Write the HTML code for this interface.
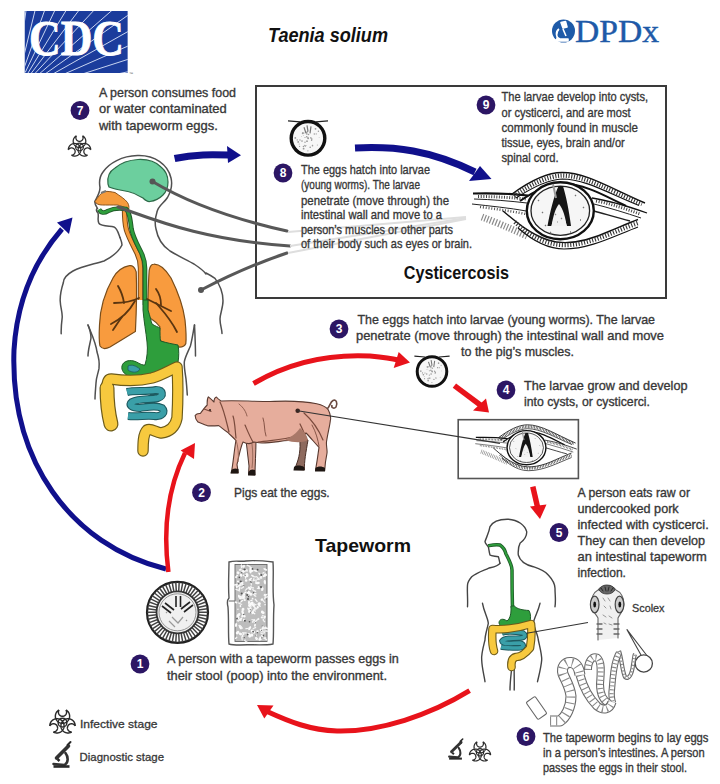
<!DOCTYPE html>
<html><head><meta charset="utf-8">
<style>
html,body{margin:0;padding:0;background:#fff;}
body{width:720px;height:784px;overflow:hidden;}
svg{display:block;}
text{font-family:"Liberation Sans",sans-serif;fill:#333;}
.t{font-size:12.8px;stroke:#383838;stroke-width:0.35px;fill:#383838;}
.s{font-size:11.5px;stroke:#383838;stroke-width:0.3px;fill:#383838;}
.n{font-size:12px;font-weight:bold;fill:#fff;}
</style></head><body>
<svg width="720" height="784" viewBox="0 0 720 784">
<rect width="720" height="784" fill="#fff"/>

<!-- CDC logo -->
<g id="cdc">
<svg x="24.5" y="11" width="103.3" height="62" viewBox="24.5 11 103.3 62" overflow="hidden">
<rect x="24.5" y="11" width="103.3" height="62" fill="#1b3c9c"/>
<path d="M17.6,70.3L41.8,-102.1M20.2,70.8L61.8,-98.2M22.8,71.5L81.3,-92.3M25.2,72.5L100.1,-84.5M27.5,73.8L118.0,-74.8M29.7,75.3L134.8,-63.4M31.7,77.0L150.4,-50.3M33.6,78.9L164.6,-35.7M35.2,81.0L177.2,-19.7M36.6,83.2L188.1,-2.5M37.8,85.6L197.2,15.7M38.8,88.0L204.4,34.8M39.4,90.6L209.6,54.4" stroke="#c8d4f0" stroke-width="1"/>
</svg>
<text x="29" y="54.5" style="font-family:'Liberation Serif',serif;font-size:51.5px;font-weight:bold;fill:#fff;stroke:#fff;stroke-width:0.8px" textLength="95" lengthAdjust="spacingAndGlyphs">CDC</text>
<text x="129" y="75" style="font-size:4px;fill:#555">™</text>
</g>

<!-- Title -->
<text x="268" y="42" style="font-size:20.5px;font-weight:bold;font-style:italic;fill:#111" textLength="120" lengthAdjust="spacingAndGlyphs">Taenia solium</text>

<!-- DPDx -->
<g id="dpdx">
<circle cx="563.5" cy="31" r="11.5" fill="#1e5aa8"/>
<path d="M561,22.5 L565.5,21.5 L567,27 L563,28 Z M559,29 C555,32 556,38 560,39 L568,39 L568,41 L556,41 L556,39 M563,29 L566,36" fill="#fff" stroke="#fff" stroke-width="1.6" stroke-linejoin="round"/>
<text x="575" y="42" style="font-family:'Liberation Serif',serif;font-size:31px;fill:#1e5aa8;stroke:#1e5aa8;stroke-width:0.4px" textLength="84" lengthAdjust="spacingAndGlyphs">DPDx</text>
</g>

<!-- Cysticercosis box -->
<rect x="256" y="86" width="410" height="212" fill="none" stroke="#3a3a3a" stroke-width="2"/>



<!-- HUMAN1 -->
<g id="human1">
<!-- body outline -->
<g fill="none" stroke="#505050" stroke-width="1.5" stroke-linecap="round" stroke-linejoin="round">
<path d="M120,237.5 C118,232 117,228 114,227 C108,226 101,226 99,223.5 C97,220 99,217 98,213 C96,211 96,209 97.5,208.5 C96,206 94,203 95,201 C97,197 100,193 100,187.5 C99,182 100,176 103,172 C109,163 122,156 137.5,155.6 C155,155 168,165 171,178 C173,186 170,193 167.5,197.5 C164,203 158,206 157,212 C155,218 155,225 156,229 C158,240 164,247 170,251 C178,256 187,260 194,264 C200,268 204,271 206,274"/>
<path d="M120,237.5 C121,240 122,243 122,245 C118,253 110,258 104,261 C95,264 82,266 73,271 C66,275 63.3,279 63.3,282.7 C61,290 60,296 60.2,301 C60.5,308 62.5,312 62.2,317.3 C61.5,323 61,329 61.2,333.7"/>
<!-- torso inner lines -->
<path d="M88,325 C92,335 96,343 97,352 C99,358 99.5,364 99,368.4 C98,374 96,378 96,383 C95.5,390 95,395 95,399"/>
<path d="M88,325 C90,330 91,334 91,338 C90,344 88,350 88,356"/>
<path d="M194.5,325 C193,333 192,340 190.4,346 C188,352 185,357 184.3,362 C184,370 186,376 186.3,382 C186.8,387 187,391 187.3,395"/>
<path d="M194.5,325 C195,335 195.5,345 195.5,356"/>
<path d="M206,273 C210,275 213,277 215,278.4 C220,285 223,293 223,300.8 C223,308 220,314 220,319 C220,325 222,329 222,333.5"/>
</g>
<!-- brain -->
<path d="M108,184 C107,177 110,171 115,168 C122,162 130,160 138,159.5 C148,159 156,162 161,167 C166,171 168,177 168,182 C168,188 166,192 163,195 C159,199 154,201 150,201.5 C147,202 145,200 143,198 C140,196 135,193 128,191.5 C120,190 113,189 109,187 Z" fill="#6ccf9e" stroke="#2d6a48" stroke-width="1.2"/>
<!-- nasal orange -->
<path d="M95,201.5 C98,197 101,193 104,191.5 C108,191 112,192 115,192.5 C120,196 125,199 127.5,202.5 C129,205 129,207 128.8,209 C124,207 120,205.5 117.5,205 C112,205 106,205 102.5,205 C99,205 96,204 95,201.5 Z" fill="#f59b3c" stroke="#8a5520" stroke-width="1"/>
<path d="M101,193 L106,191" stroke="#777" stroke-width="2"/>
<!-- trachea orange -->
<path d="M124.5,207 C124.5,215 124.5,223 126.5,230 C129,238 133,245 137,253 C139.5,258 140.5,262 140.5,268 L140.5,300" fill="none" stroke="#7a4a18" stroke-width="5.4"/>
<path d="M124.5,207 C124.5,215 124.5,223 126.5,230 C129,238 133,245 137,253 C139.5,258 140.5,262 140.5,268 L140.5,300" fill="none" stroke="#f59b3c" stroke-width="3.4"/>
<!-- green esophagus -->
<path d="M99,209.5 C101,213 104,213.5 108,211 C113,208.5 120,208 126,209 C129.5,212 130.5,220 131.5,229 C133,237 137,244 141,252 C144,258 145,263 145,268 L145,305" fill="none" stroke="#1f5a28" stroke-width="4.6"/>
<path d="M99,209.5 C101,213 104,213.5 108,211 C113,208.5 120,208 126,209 C129.5,212 130.5,220 131.5,229 C133,237 137,244 141,252 C144,258 145,263 145,268 L145,305" fill="none" stroke="#2e9e3c" stroke-width="2.8"/>
<!-- lungs -->
<path d="M129.3,265.7 C122,267 117,271 113,278 C105,292 100,310 99.5,325 C99,335 99,342 100,346 C102,349 106,349 110,347 C118,342 128,336 135.4,331.4 C136.5,310 137,290 136.2,271.8 C135,267 132,265 129.3,265.7 Z" fill="#f89b3e" stroke="#7a4d1a" stroke-width="1.2"/>
<path d="M153.8,264.2 C160,264 166,270 171,278 C178,292 183,305 185,320 C186,330 186.5,338 185.8,343.6 C184,347 180,347.5 176.7,346.7 C170,345 164,343 159.9,340.6 C158,335 160,330 159.9,326.8 C157,322 153,320 150,318 C148,314 147,311 147.6,311.5 C148,295 148.5,280 149.2,270.3 C150,266 151.5,264.2 153.8,264.2 Z" fill="#f89b3e" stroke="#7a4d1a" stroke-width="1.2"/>
<!-- bronchi -->
<g fill="none" stroke="#5a3510" stroke-width="1.8" stroke-linecap="round">
<path d="M139,298 C133,301 126,303 114,303"/><path d="M135,301 C130,310 123,318 111,324"/><path d="M124,303 C123,296 121,291 118,286"/><path d="M122,317 C118,322 116,326 113,330"/>
<path d="M147,299 C153,302 161,306 171,311"/><path d="M156,303 C162,310 170,318 177,332"/><path d="M161,305 C161,298 159,293 156,289"/>
</g>
<!-- stomach -->
<path d="M143,300 L148,300 L148,310 C150,316 151,321 152,324 C155,326 158,327 160,328 C160,333 160,338 160.5,341 C167,343 173,344 178,345 C179,350 179,357 178,362 C176,367 168,372 160,374 C154,375.5 150,376 147.6,376 C141,377 135,378 129,376.5 C124,374 121,370 122,366 C123,361 130,359 136.5,362 C140,364 143,365.5 145,365 C147,358 148,350 147,342 C146,332 144,322 143,310 Z" fill="#2e9e3c" stroke="#1f5a28" stroke-width="1"/>
<path d="M128,366 C132,364 136,366 140,369 C138,373 132,373 128,370 Z" fill="#3a9fa8" stroke="#1e5a60" stroke-width="0.8"/>
<!-- small intestine teal -->
<path d="M127,392 C135,390 145,392 156,390 C163,390 164,396 158,398 C150,400 140,398 132,402 C128,405 132,408 140,408 C148,407 156,405 162,408 C166,412 162,417 154,416 C146,415 138,417 128,416" fill="none" stroke="#1e5a60" stroke-width="8"/>
<path d="M127,392 C135,390 145,392 156,390 C163,390 164,396 158,398 C150,400 140,398 132,402 C128,405 132,408 140,408 C148,407 156,405 162,408 C166,412 162,417 154,416 C146,415 138,417 128,416" fill="none" stroke="#3a9fa8" stroke-width="5.8"/>
<!-- colon yellow -->
<path d="M111,423 C108,412 107,398 107,388 C107,382 108,379 111,379 C125,381 140,381 152,378 C162,375 170,370 177,367 C178,380 178,400 177,418 C175,428 168,432 161,433 C155,432 151,428 147,430 C143,434 143,444 143,451" fill="none" stroke="#6b5a1a" stroke-width="11.5" stroke-linecap="round" stroke-linejoin="round"/>
<path d="M111,424 C108,412 107,398 107,388" fill="none" stroke="#6b5a1a" stroke-width="15" stroke-linecap="round"/>
<path d="M111,423 C108,412 107,398 107,388 C107,382 108,379 111,379 C125,381 140,381 152,378 C162,375 170,370 177,367 C178,380 178,400 177,418 C175,428 168,432 161,433 C155,432 151,428 147,430 C143,434 143,444 143,451" fill="none" stroke="#f7c93e" stroke-width="9.2" stroke-linecap="round" stroke-linejoin="round"/>
<path d="M111,424 C108,412 107,398 107,388" fill="none" stroke="#f7c93e" stroke-width="12.6" stroke-linecap="round"/>
<!-- dots and lines -->
<g fill="none" stroke="#585858" stroke-width="3" stroke-linecap="round">
<path d="M152.5,181.5 C175,195 215,215 287,231"/>
<path d="M118,207 C150,218 200,240 290,246"/>
<path d="M201,290 C230,275 260,262 287,253"/>
</g>
<circle cx="152.5" cy="181.5" r="3" fill="#555"/>
<circle cx="201" cy="290" r="3" fill="#555"/>
</g>



<defs>
<radialGradient id="eggfill" cx="50%" cy="50%" r="50%">
<stop offset="0%" stop-color="#fbfbfb"/><stop offset="75%" stop-color="#f0f0f0"/><stop offset="100%" stop-color="#c8c8c8"/>
</radialGradient>
<pattern id="hatch" width="3" height="3" patternUnits="userSpaceOnUse" patternTransform="rotate(70)">
<rect width="3" height="3" fill="#fff"/><line x1="0" y1="0" x2="0" y2="3" stroke="#222" stroke-width="1.1"/>
</pattern>
<pattern id="hatchg" width="3" height="3" patternUnits="userSpaceOnUse" patternTransform="rotate(60)">
<rect width="3" height="3" fill="#fff"/><line x1="0" y1="0" x2="0" y2="3" stroke="#777" stroke-width="1"/>
</pattern>
<g id="cyst" fill="none">
<!-- left fibers -->
<path d="M473,193.5 C492,193 510,193.5 528,195.5" stroke="#111" stroke-width="2.2"/>
<path d="M474,199 C492,199.5 510,201 527,203" stroke="#222" stroke-width="1"/>
<path d="M478,196.5 C495,196.5 510,197.5 526,199" stroke="#444" stroke-width="3" stroke-dasharray="1 1.6"/>
<path d="M472,204 C490,206 510,208 526,211" stroke="#222" stroke-width="1"/>
<path d="M480,207 C496,209 510,211 526,214" stroke="#555" stroke-width="2.5" stroke-dasharray="1 1.8"/>
<!-- lower left gray band -->
<path d="M482,217 C495,222 510,228 527,236" stroke="#8a8a8a" stroke-width="7" stroke-dasharray="1.2 1.8"/>
<!-- upper band -->
<path d="M512,194 C530,181 547,172.5 562,172.5 C586,172.5 610,188 645,203" stroke="#111" stroke-width="1.4"/>
<path d="M514,196 C531,184 548,176 562,175.5 C585,175.5 609,190 642,204" stroke="#333" stroke-width="4.5" stroke-dasharray="1.1 1.6"/>
<path d="M516,198 C533,187 548,179.5 562,179 C585,179 608,193 639,205.5" stroke="#111" stroke-width="1.2"/>
<path d="M520,201 C536,190 549,184 562,183.5 C582,183.5 600,193 626,206" stroke="#111" stroke-width="2"/>
<!-- right fibers -->
<path d="M592,198 C612,201 630,207 647,213" stroke="#111" stroke-width="1.3"/>
<path d="M594,204 C610,208 626,213 641,218" stroke="#222" stroke-width="1"/>
<path d="M596,201 C612,204 626,209 640,214" stroke="#444" stroke-width="3" stroke-dasharray="1 1.6"/>
<path d="M594,211 C605,214 618,218 630,221" stroke="#222" stroke-width="1.4"/>
<!-- lower arcs -->
<path d="M503,211 C516,222 530,234 548,240 C566,246 588,241 610,231 C622,226 631,222 638,219.5" stroke="#111" stroke-width="1.4"/>
<path d="M515,222 C528,235 545,244 562,245 C588,246 612,232 638,223" stroke="#333" stroke-width="4.5" stroke-dasharray="1.1 1.7"/>
<path d="M518,228 C533,241 548,249 564,249 C590,249 614,236 638,227" stroke="#111" stroke-width="1.2"/>
<!-- inner circle -->
<ellipse cx="560.3" cy="210.7" rx="33.5" ry="28.5" fill="#fff" stroke="#111" stroke-width="2.4"/>
<ellipse cx="560.3" cy="210.7" rx="29.3" ry="24.6" fill="#f6f6f6" stroke="#222" stroke-width="1.3"/>
<path d="M538,200 l1,1 M545,225 l1,1 M575,195 l1,1 M580,220 l1,0 M550,232 l1,1 M570,232 l1,0 M542,212 l1,1 M583,207 l1,1" stroke="#777" stroke-width="1.3"/>
<!-- central invaginated scolex -->
<path d="M558.5,186 L563,186 C566,196 569,210 571,226 L567,226 C565,219 563,214 559,211.5 C555,214.5 553,220 551.5,226 L547.5,226 C550,212 554,196 558.5,186 Z" fill="#151515"/>
<path d="M559,204 C555,209 553,217 551.5,226 L566.5,226 C565.5,217 563,209 559,204 Z" fill="#f2f2f2"/><path d="M555,214 l1,1 M561,218 l1,1 M557,222 l1,0" stroke="#888" stroke-width="1.2"/>
<path d="M553,184 L556,198" stroke="#999" stroke-width="2"/>
</g>
<g id="egg">
<circle cx="0" cy="0" r="16.8" fill="#f7f7f7" stroke="#111" stroke-width="3.4"/>
<circle cx="-3.0" cy="-0.8" r="0.6" fill="#999"/><circle cx="-5.5" cy="-5.6" r="0.4" fill="#999"/><circle cx="0.1" cy="-0.1" r="0.5" fill="#999"/><circle cx="3.0" cy="-0.1" r="0.6" fill="#999"/><circle cx="-10.8" cy="1.6" r="0.7" fill="#999"/><circle cx="-1.3" cy="-1.5" r="0.8" fill="#999"/><circle cx="-0.4" cy="-6.8" r="0.7" fill="#999"/><circle cx="0.0" cy="-0.8" r="0.7" fill="#999"/><circle cx="3.8" cy="0.8" r="0.8" fill="#999"/><circle cx="-1.2" cy="-6.0" r="0.8" fill="#999"/><circle cx="8.2" cy="-4.4" r="0.6" fill="#999"/><circle cx="-9.8" cy="3.6" r="0.9" fill="#999"/><circle cx="9.3" cy="6.6" r="0.5" fill="#999"/><circle cx="2.8" cy="-0.6" r="0.6" fill="#999"/><circle cx="-2.6" cy="7.7" r="0.7" fill="#999"/><circle cx="-3.0" cy="4.0" r="0.7" fill="#999"/><circle cx="6.3" cy="-4.3" r="0.7" fill="#999"/><circle cx="7.5" cy="-9.5" r="0.9" fill="#999"/><circle cx="4.5" cy="7.5" r="0.8" fill="#999"/><circle cx="10.4" cy="-7.1" r="0.7" fill="#999"/><circle cx="2.2" cy="9.0" r="0.8" fill="#999"/><circle cx="-1.6" cy="7.3" r="0.4" fill="#999"/><circle cx="11.1" cy="-0.7" r="0.4" fill="#999"/><circle cx="-8.8" cy="5.6" r="0.5" fill="#999"/><circle cx="0.5" cy="-3.8" r="0.8" fill="#999"/><circle cx="-0.4" cy="-0.4" r="0.4" fill="#999"/><circle cx="-4.5" cy="8.2" r="0.8" fill="#999"/><circle cx="-12.7" cy="-0.4" r="0.9" fill="#999"/><circle cx="3.6" cy="1.9" r="0.7" fill="#999"/><circle cx="0.1" cy="0.4" r="0.6" fill="#999"/><circle cx="4.4" cy="6.6" r="0.4" fill="#999"/><circle cx="-4.4" cy="10.4" r="0.9" fill="#999"/><circle cx="-8.4" cy="8.1" r="0.6" fill="#999"/><circle cx="-4.2" cy="-5.3" r="0.7" fill="#999"/><circle cx="-5.3" cy="-5.0" r="0.9" fill="#999"/><circle cx="-6.0" cy="2.8" r="0.8" fill="#999"/><circle cx="-1.0" cy="2.9" r="0.9" fill="#999"/><circle cx="-6.5" cy="-2.0" r="0.4" fill="#999"/><circle cx="-4.7" cy="-2.6" r="0.4" fill="#999"/><circle cx="-5.4" cy="-5.9" r="0.4" fill="#999"/><circle cx="-8.0" cy="1.7" r="0.7" fill="#999"/><circle cx="-1.2" cy="-4.4" r="0.8" fill="#999"/><circle cx="0.3" cy="0.1" r="0.7" fill="#999"/><circle cx="-0.1" cy="12.5" r="0.6" fill="#999"/><circle cx="-3.3" cy="7.0" r="0.6" fill="#999"/>
<path d="M-14,8 A16,16 0 0 0 6,15.5" stroke="#111" stroke-width="1.5" fill="none"/>
<path d="M-20,-17.5 L-8,-16.5 M8,-16.5 L20,-17.5" stroke="#222" stroke-width="1.3"/>
<path d="M-4,-11 L-2,-5 M3,-12 L2,-5 M-1,-13 L0,-7" stroke="#777" stroke-width="1.2"/>
</g>
</defs>
<!-- big cyst -->
<use href="#cyst"/>
<!-- small box -->
<rect x="458.2" y="419.7" width="120.2" height="58.8" fill="#fff" stroke="#555" stroke-width="1.6"/>
<g transform="translate(526.3,447) scale(0.58,0.6) translate(-560,-209.5)"><use href="#cyst"/></g>
<!-- eggs -->
<use href="#egg" transform="translate(308,138.3)"/>
<use href="#egg" transform="translate(432,371.5) scale(0.88)"/>

<!-- PIG -->
<g id="pig" stroke-linejoin="round">
<!-- back dark leg -->
<path d="M299,436 C301,445 300,455 297,463 L294.5,469.5 L304.5,470 C304,462 306,452 308,440 Z" fill="#8d6a5e" stroke="#4a3028" stroke-width="1"/>
<!-- far front leg -->
<path d="M246,440 L249,466 L248.5,474.5 L255,475 C255,465 256,452 256,440 Z" fill="#d8a090" stroke="#4a3028" stroke-width="1"/>
<!-- body -->
<path d="M195.2,415.3 C197,413 199,413.5 200.3,413.5 C203,410 205,407 207.2,405 C207,401 207.5,398 208.4,396.9 C211,399 213,401 214,402 C214,399 215,397.5 216.4,397 C218,399 219.5,400 221,401 C235,400 250,401.5 270,401.5 C285,401 299,400 316.7,403.8 C322,405 326,407 328.1,409.5 C330.5,414 331,419 330.4,420 C330,425 328,432 326.5,441.7 C326,446 327.5,450 327,453.1 C326,458 325,464 324.7,470.4 L315.5,470.4 C317,462 318,455 319,447.4 C314,442 310,437 306,433 C300,438 294,441 288,440.5 C280,441 272,443 262,443 C258,443 255,442 254,442 C251,444 247,444 243,442 C241,446 239,455 237,464.6 L238.2,472.7 L231.3,472.7 C233,465 234,452 235.9,440.5 C233,437 230,435 227.9,432.5 C224,430 221,427 218.7,425.6 C213,426 209,426 207.2,425.6 C203,424 200,423 198,422.1 C196,420 195,418 195.2,415.3 Z" fill="#e6ad9c" stroke="#5a3a30" stroke-width="1.1"/>
<!-- shading -->
<g fill="none" stroke="#7a4a3c" stroke-width="1.2" stroke-linecap="round">
<path d="M220,402 C224,410 226,420 229,432"/>
<path d="M233,416 C235,422 235,430 236,438"/>
<path d="M245,425 C248,432 250,437 253,442"/>
<path d="M263,418 C265,424 264,430 266,436" stroke-width="0.9"/>
<path d="M300,424 C303,430 305,435 307,440"/>
<path d="M304,413 C312,420 318,428 323,440"/>
<path d="M312,425 C316,432 318,440 319,446" stroke-width="0.9"/>
<path d="M258,442 C272,440 284,440 296,436"/>
<path d="M204,409 L211,411.5"/>
<path d="M239,404 C244,408 246,412 247,416" stroke-width="0.8"/>
</g>
<path d="M285,440 C291,437 297,433 300,428 C305,432 307,436 308,440 C303,443 294,443 285,440 Z" fill="#a87868"/>
<path d="M236,440 C238,446 239,454 238,462 M252,444 C253,452 253,460 252,468" stroke="#9a6a5a" stroke-width="1" fill="none"/>
<!-- hooves -->
<path d="M231,471 C232,468 236,468 238.5,469 L238.5,473.5 L230.5,473.5 Z" fill="#1e1612"/>
<path d="M248.5,472 C250,469 253,469 255,470 L255.5,475.5 L248,475.5 Z" fill="#1e1612"/>
<path d="M294,467 C296,465 301,465 304,467 L304.5,470.5 L293.5,470.5 Z" fill="#1e1612"/>
<path d="M315.5,468 C318,466 322,466 325,468 L325,471.5 L315,471.5 Z" fill="#1e1612"/>
<!-- tail -->
<path d="M327,409 C330,407 330,402 333,400.5 C336,399 338,403 336,407 C334,409 331,408 332,405" fill="none" stroke="#6a4a40" stroke-width="1.6"/>
<!-- eye -->
<circle cx="210" cy="410" r="1.1" fill="#3a2520"/>
<!-- dot and line -->
<circle cx="297.7" cy="410.7" r="2.3" fill="#3a2520"/>
<path d="M297.7,410.7 L500,443.4" stroke="#333" stroke-width="1.1"/>
</g>


<!-- EGG1 -->
<g id="egg1">
<circle cx="177.5" cy="612.3" r="30.5" fill="#fff" stroke="#222" stroke-width="2.2"/>
<path d="M198.5,612.3L207.5,612.3M198.4,614.7L207.3,615.8M197.9,617.1L206.7,619.2M197.2,619.5L205.7,622.6M196.3,621.7L204.3,625.8M195.0,623.8L202.6,628.8M193.6,625.8L200.5,631.6M191.9,627.6L198.1,634.1M190.0,629.1L195.4,636.4M188.0,630.5L192.5,638.3M185.8,631.6L189.4,639.8M183.5,632.4L186.1,641.0M181.1,633.0L182.7,641.8M178.7,633.3L179.2,642.2M176.3,633.3L175.8,642.2M173.9,633.0L172.3,641.8M171.5,632.4L168.9,641.0M169.2,631.6L165.6,639.8M167.0,630.5L162.5,638.3M165.0,629.1L159.6,636.4M163.1,627.6L156.9,634.1M161.4,625.8L154.5,631.6M160.0,623.8L152.4,628.8M158.7,621.7L150.7,625.8M157.8,619.5L149.3,622.6M157.1,617.1L148.3,619.2M156.6,614.7L147.7,615.8M156.5,612.3L147.5,612.3M156.6,609.9L147.7,608.8M157.1,607.5L148.3,605.4M157.8,605.1L149.3,602.0M158.7,602.9L150.7,598.8M160.0,600.8L152.4,595.8M161.4,598.8L154.5,593.0M163.1,597.0L156.9,590.5M165.0,595.5L159.6,588.2M167.0,594.1L162.5,586.3M169.2,593.0L165.6,584.8M171.5,592.2L168.9,583.6M173.9,591.6L172.3,582.8M176.3,591.3L175.8,582.4M178.7,591.3L179.2,582.4M181.1,591.6L182.7,582.8M183.5,592.2L186.1,583.6M185.8,593.0L189.4,584.8M188.0,594.1L192.5,586.3M190.0,595.5L195.4,588.2M191.9,597.0L198.1,590.5M193.6,598.8L200.5,593.0M195.0,600.8L202.6,595.8M196.3,602.9L204.3,598.8M197.2,605.1L205.7,602.0M197.9,607.5L206.7,605.4M198.4,609.9L207.3,608.8" stroke="#444" stroke-width="1.5"/>
<circle cx="177.5" cy="612.3" r="21" fill="#f0f0f0" stroke="#333" stroke-width="1.8"/>
<circle cx="177.5" cy="612.3" r="18.5" fill="none" stroke="#888" stroke-width="0.9"/>
<path d="M176,596 L176,607 M180.5,596 L180.5,607 M162,606 L171,613 M165,603 L174,610 M193,605 L184,612 M190,602 L181,609" stroke="#222" stroke-width="1.6"/>
<path d="M172,617 L178,623 L183,617 M169,621 L175,627 M186,620 l1,1 M166,612 l1,1" stroke="#999" stroke-width="1.2" fill="none"/>
</g>
<!-- PROGLOTTID -->
<g id="prog">
<path d="M229,562 C236,560 240,562 246,561 C255,560 264,561 273,562 C274,575 272,590 274,605 C273,620 274,632 273,644 C262,646 250,644 240,645 C236,645 232,645 229,644 C228,632 229,620 228,607 C227,603 227,600 229,598 C228,585 229,572 229,562 Z" fill="#fff" stroke="#555" stroke-width="1.4"/>
<path d="M229,601 L236,601" stroke="#666" stroke-width="1"/><!--x-->
<rect x="235" y="564.5" width="32" height="77" fill="#bdbdbd" stroke="#666" stroke-width="0.9"/>
<ellipse cx="245.7" cy="577.2" rx="1.8" ry="0.7" transform="rotate(96 245.7 577.2)" fill="#fafafa"/><ellipse cx="247.0" cy="570.3" rx="1.6" ry="0.6" transform="rotate(78 247.0 570.3)" fill="#fafafa"/><ellipse cx="238.1" cy="572.7" rx="1.5" ry="1.4" transform="rotate(22 238.1 572.7)" fill="#fafafa"/><ellipse cx="242.7" cy="612.4" rx="2.3" ry="1.2" transform="rotate(71 242.7 612.4)" fill="#fafafa"/><ellipse cx="265.3" cy="569.4" rx="2.2" ry="0.9" transform="rotate(26 265.3 569.4)" fill="#fafafa"/><ellipse cx="239.5" cy="588.8" rx="2.1" ry="0.8" transform="rotate(105 239.5 588.8)" fill="#fafafa"/><ellipse cx="255.2" cy="593.6" rx="1.7" ry="0.7" transform="rotate(11 255.2 593.6)" fill="#fafafa"/><ellipse cx="242.2" cy="616.3" rx="1.5" ry="0.9" transform="rotate(105 242.2 616.3)" fill="#fafafa"/><ellipse cx="249.6" cy="588.2" rx="2.1" ry="1.3" transform="rotate(44 249.6 588.2)" fill="#fafafa"/><ellipse cx="253.2" cy="604.9" rx="2.2" ry="1.3" transform="rotate(52 253.2 604.9)" fill="#fafafa"/><ellipse cx="265.4" cy="574.7" rx="1.5" ry="1.4" transform="rotate(27 265.4 574.7)" fill="#fafafa"/><ellipse cx="250.7" cy="568.9" rx="1.9" ry="1.4" transform="rotate(103 250.7 568.9)" fill="#fafafa"/><ellipse cx="262.3" cy="589.2" rx="1.9" ry="1.2" transform="rotate(104 262.3 589.2)" fill="#fafafa"/><ellipse cx="249.7" cy="628.2" rx="2.3" ry="1.1" transform="rotate(120 249.7 628.2)" fill="#fafafa"/><ellipse cx="237.8" cy="617.9" rx="1.8" ry="1.6" transform="rotate(148 237.8 617.9)" fill="#fafafa"/><ellipse cx="244.5" cy="594.5" rx="1.9" ry="0.6" transform="rotate(83 244.5 594.5)" fill="#fafafa"/><ellipse cx="241.0" cy="574.7" rx="0.9" ry="1.4" transform="rotate(23 241.0 574.7)" fill="#fafafa"/><ellipse cx="243.4" cy="594.9" rx="2.2" ry="0.7" transform="rotate(81 243.4 594.9)" fill="#fafafa"/><ellipse cx="252.5" cy="631.4" rx="2.1" ry="1.5" transform="rotate(50 252.5 631.4)" fill="#fafafa"/><ellipse cx="248.5" cy="592.5" rx="2.2" ry="1.6" transform="rotate(27 248.5 592.5)" fill="#fafafa"/><ellipse cx="241.3" cy="583.2" rx="1.2" ry="1.1" transform="rotate(106 241.3 583.2)" fill="#fafafa"/><ellipse cx="243.9" cy="566.3" rx="1.5" ry="1.0" transform="rotate(102 243.9 566.3)" fill="#fafafa"/><ellipse cx="264.6" cy="617.1" rx="1.6" ry="1.2" transform="rotate(122 264.6 617.1)" fill="#fafafa"/><ellipse cx="237.6" cy="632.6" rx="2.0" ry="1.5" transform="rotate(144 237.6 632.6)" fill="#fafafa"/><ellipse cx="247.8" cy="595.5" rx="1.0" ry="1.2" transform="rotate(11 247.8 595.5)" fill="#fafafa"/><ellipse cx="238.0" cy="581.4" rx="1.1" ry="0.9" transform="rotate(9 238.0 581.4)" fill="#fafafa"/><ellipse cx="236.0" cy="577.2" rx="1.0" ry="1.0" transform="rotate(5 236.0 577.2)" fill="#fafafa"/><ellipse cx="262.2" cy="611.4" rx="1.0" ry="0.9" transform="rotate(63 262.2 611.4)" fill="#fafafa"/><ellipse cx="246.9" cy="575.1" rx="2.2" ry="1.6" transform="rotate(84 246.9 575.1)" fill="#fafafa"/><ellipse cx="250.5" cy="572.4" rx="1.0" ry="0.9" transform="rotate(48 250.5 572.4)" fill="#fafafa"/><ellipse cx="260.9" cy="577.9" rx="0.8" ry="1.6" transform="rotate(95 260.9 577.9)" fill="#fafafa"/><ellipse cx="240.4" cy="606.2" rx="0.8" ry="1.1" transform="rotate(176 240.4 606.2)" fill="#fafafa"/><ellipse cx="261.9" cy="617.5" rx="1.2" ry="1.0" transform="rotate(30 261.9 617.5)" fill="#fafafa"/><ellipse cx="259.2" cy="605.4" rx="2.0" ry="0.9" transform="rotate(40 259.2 605.4)" fill="#fafafa"/><ellipse cx="260.3" cy="638.9" rx="2.2" ry="1.4" transform="rotate(147 260.3 638.9)" fill="#fafafa"/><ellipse cx="258.2" cy="582.8" rx="1.6" ry="1.0" transform="rotate(5 258.2 582.8)" fill="#fafafa"/><ellipse cx="236.8" cy="586.7" rx="1.2" ry="1.3" transform="rotate(172 236.8 586.7)" fill="#fafafa"/><ellipse cx="249.4" cy="635.3" rx="2.4" ry="1.6" transform="rotate(66 249.4 635.3)" fill="#fafafa"/><ellipse cx="242.6" cy="582.8" rx="1.1" ry="0.8" transform="rotate(112 242.6 582.8)" fill="#fafafa"/><ellipse cx="263.0" cy="628.2" rx="1.6" ry="1.3" transform="rotate(144 263.0 628.2)" fill="#fafafa"/><ellipse cx="238.5" cy="614.9" rx="2.3" ry="1.4" transform="rotate(135 238.5 614.9)" fill="#fafafa"/><ellipse cx="250.3" cy="579.2" rx="2.1" ry="0.9" transform="rotate(144 250.3 579.2)" fill="#fafafa"/><ellipse cx="265.1" cy="595.3" rx="1.4" ry="1.5" transform="rotate(130 265.1 595.3)" fill="#fafafa"/><ellipse cx="241.1" cy="575.4" rx="1.0" ry="1.5" transform="rotate(145 241.1 575.4)" fill="#fafafa"/><ellipse cx="240.4" cy="627.2" rx="2.4" ry="1.3" transform="rotate(63 240.4 627.2)" fill="#fafafa"/><ellipse cx="252.5" cy="575.7" rx="0.8" ry="1.6" transform="rotate(117 252.5 575.7)" fill="#fafafa"/><ellipse cx="251.8" cy="635.1" rx="1.5" ry="1.5" transform="rotate(149 251.8 635.1)" fill="#fafafa"/><ellipse cx="242.3" cy="584.6" rx="1.3" ry="0.8" transform="rotate(106 242.3 584.6)" fill="#fafafa"/><ellipse cx="243.8" cy="597.0" rx="1.0" ry="1.5" transform="rotate(64 243.8 597.0)" fill="#fafafa"/><ellipse cx="249.7" cy="609.2" rx="2.2" ry="1.0" transform="rotate(165 249.7 609.2)" fill="#fafafa"/><ellipse cx="251.0" cy="605.4" rx="1.6" ry="0.6" transform="rotate(79 251.0 605.4)" fill="#fafafa"/><ellipse cx="241.5" cy="566.3" rx="2.1" ry="0.8" transform="rotate(85 241.5 566.3)" fill="#fafafa"/><ellipse cx="257.8" cy="607.2" rx="1.3" ry="1.1" transform="rotate(100 257.8 607.2)" fill="#fafafa"/><ellipse cx="259.5" cy="573.9" rx="1.7" ry="0.8" transform="rotate(50 259.5 573.9)" fill="#fafafa"/><ellipse cx="259.2" cy="603.6" rx="1.7" ry="1.4" transform="rotate(164 259.2 603.6)" fill="#fafafa"/><ellipse cx="249.3" cy="611.3" rx="1.6" ry="1.1" transform="rotate(125 249.3 611.3)" fill="#fafafa"/><ellipse cx="249.6" cy="605.5" rx="1.6" ry="1.5" transform="rotate(126 249.6 605.5)" fill="#fafafa"/><ellipse cx="262.3" cy="635.7" rx="1.2" ry="1.2" transform="rotate(170 262.3 635.7)" fill="#fafafa"/><ellipse cx="261.2" cy="576.1" rx="1.0" ry="1.0" transform="rotate(13 261.2 576.1)" fill="#fafafa"/><ellipse cx="243.2" cy="571.4" rx="1.9" ry="1.4" transform="rotate(161 243.2 571.4)" fill="#fafafa"/><ellipse cx="240.6" cy="619.0" rx="1.9" ry="0.7" transform="rotate(159 240.6 619.0)" fill="#fafafa"/><ellipse cx="265.0" cy="582.2" rx="2.3" ry="1.0" transform="rotate(88 265.0 582.2)" fill="#fafafa"/><ellipse cx="265.7" cy="627.6" rx="1.1" ry="1.0" transform="rotate(93 265.7 627.6)" fill="#fafafa"/><ellipse cx="246.2" cy="580.5" rx="1.3" ry="1.3" transform="rotate(4 246.2 580.5)" fill="#fafafa"/><ellipse cx="252.6" cy="598.6" rx="0.8" ry="0.9" transform="rotate(112 252.6 598.6)" fill="#fafafa"/><ellipse cx="251.4" cy="570.8" rx="2.4" ry="1.4" transform="rotate(175 251.4 570.8)" fill="#fafafa"/><ellipse cx="239.1" cy="585.7" rx="0.9" ry="1.4" transform="rotate(49 239.1 585.7)" fill="#fafafa"/><ellipse cx="239.9" cy="597.2" rx="2.3" ry="1.4" transform="rotate(47 239.9 597.2)" fill="#fafafa"/><ellipse cx="240.5" cy="634.0" rx="1.7" ry="1.3" transform="rotate(16 240.5 634.0)" fill="#fafafa"/><ellipse cx="237.7" cy="616.9" rx="1.5" ry="0.7" transform="rotate(169 237.7 616.9)" fill="#fafafa"/><ellipse cx="255.0" cy="625.3" rx="0.9" ry="1.5" transform="rotate(12 255.0 625.3)" fill="#fafafa"/><ellipse cx="261.9" cy="599.6" rx="1.3" ry="1.2" transform="rotate(167 261.9 599.6)" fill="#fafafa"/><ellipse cx="244.0" cy="575.6" rx="1.6" ry="0.8" transform="rotate(20 244.0 575.6)" fill="#fafafa"/><ellipse cx="240.8" cy="569.7" rx="1.1" ry="0.9" transform="rotate(55 240.8 569.7)" fill="#fafafa"/><ellipse cx="258.8" cy="587.5" rx="1.6" ry="0.8" transform="rotate(62 258.8 587.5)" fill="#fafafa"/><ellipse cx="236.5" cy="584.5" rx="0.8" ry="1.3" transform="rotate(99 236.5 584.5)" fill="#fafafa"/><ellipse cx="241.7" cy="601.1" rx="2.3" ry="0.7" transform="rotate(147 241.7 601.1)" fill="#fafafa"/><ellipse cx="249.0" cy="602.6" rx="2.1" ry="1.0" transform="rotate(91 249.0 602.6)" fill="#fafafa"/><ellipse cx="256.6" cy="638.7" rx="1.3" ry="1.4" transform="rotate(127 256.6 638.7)" fill="#fafafa"/><ellipse cx="255.1" cy="595.9" rx="1.4" ry="0.7" transform="rotate(23 255.1 595.9)" fill="#fafafa"/><ellipse cx="238.1" cy="620.8" rx="1.2" ry="0.8" transform="rotate(15 238.1 620.8)" fill="#fafafa"/><ellipse cx="261.2" cy="630.4" rx="1.9" ry="0.9" transform="rotate(44 261.2 630.4)" fill="#fafafa"/><ellipse cx="244.8" cy="600.0" rx="1.1" ry="1.0" transform="rotate(47 244.8 600.0)" fill="#fafafa"/><ellipse cx="264.9" cy="638.0" rx="1.7" ry="0.8" transform="rotate(174 264.9 638.0)" fill="#fafafa"/><ellipse cx="245.3" cy="592.4" rx="0.8" ry="1.0" transform="rotate(85 245.3 592.4)" fill="#fafafa"/><ellipse cx="251.1" cy="580.9" rx="1.6" ry="0.6" transform="rotate(48 251.1 580.9)" fill="#fafafa"/><ellipse cx="238.7" cy="595.6" rx="0.9" ry="0.6" transform="rotate(55 238.7 595.6)" fill="#fafafa"/><ellipse cx="243.0" cy="609.3" rx="1.6" ry="1.4" transform="rotate(118 243.0 609.3)" fill="#fafafa"/><ellipse cx="257.5" cy="631.1" rx="1.4" ry="0.9" transform="rotate(177 257.5 631.1)" fill="#fafafa"/><ellipse cx="240.5" cy="619.6" rx="1.8" ry="0.6" transform="rotate(150 240.5 619.6)" fill="#fafafa"/><ellipse cx="262.8" cy="612.4" rx="2.0" ry="1.4" transform="rotate(25 262.8 612.4)" fill="#fafafa"/><ellipse cx="251.7" cy="603.3" rx="2.1" ry="1.4" transform="rotate(149 251.7 603.3)" fill="#fafafa"/><ellipse cx="253.5" cy="632.1" rx="1.9" ry="1.3" transform="rotate(41 253.5 632.1)" fill="#fafafa"/><ellipse cx="236.9" cy="575.8" rx="1.4" ry="0.7" transform="rotate(150 236.9 575.8)" fill="#fafafa"/><ellipse cx="252.8" cy="612.5" rx="1.8" ry="1.3" transform="rotate(88 252.8 612.5)" fill="#fafafa"/><ellipse cx="236.1" cy="625.0" rx="2.0" ry="1.1" transform="rotate(96 236.1 625.0)" fill="#fafafa"/><ellipse cx="255.8" cy="570.9" rx="2.0" ry="0.9" transform="rotate(13 255.8 570.9)" fill="#fafafa"/><ellipse cx="244.0" cy="620.0" rx="1.1" ry="1.3" transform="rotate(176 244.0 620.0)" fill="#fafafa"/><ellipse cx="250.8" cy="594.3" rx="1.6" ry="1.3" transform="rotate(138 250.8 594.3)" fill="#fafafa"/><ellipse cx="254.5" cy="613.6" rx="0.9" ry="0.7" transform="rotate(46 254.5 613.6)" fill="#fafafa"/><ellipse cx="258.3" cy="588.5" rx="1.7" ry="0.6" transform="rotate(11 258.3 588.5)" fill="#fafafa"/><ellipse cx="244.1" cy="615.7" rx="1.9" ry="1.3" transform="rotate(52 244.1 615.7)" fill="#fafafa"/><ellipse cx="251.5" cy="600.4" rx="1.5" ry="0.7" transform="rotate(161 251.5 600.4)" fill="#fafafa"/><ellipse cx="242.0" cy="638.4" rx="2.3" ry="0.6" transform="rotate(83 242.0 638.4)" fill="#fafafa"/><ellipse cx="260.6" cy="637.6" rx="1.5" ry="0.9" transform="rotate(38 260.6 637.6)" fill="#fafafa"/><ellipse cx="264.4" cy="581.6" rx="1.7" ry="0.7" transform="rotate(94 264.4 581.6)" fill="#fafafa"/><ellipse cx="264.6" cy="575.8" rx="2.1" ry="1.1" transform="rotate(160 264.6 575.8)" fill="#fafafa"/><ellipse cx="257.1" cy="583.1" rx="2.2" ry="1.1" transform="rotate(4 257.1 583.1)" fill="#fafafa"/><ellipse cx="236.1" cy="602.4" rx="1.5" ry="0.9" transform="rotate(25 236.1 602.4)" fill="#fafafa"/><ellipse cx="246.3" cy="589.4" rx="2.1" ry="0.6" transform="rotate(135 246.3 589.4)" fill="#fafafa"/>
<circle cx="261.2" cy="574.9" r="1.0" fill="#555"/><circle cx="257.4" cy="632.7" r="0.6" fill="#555"/><circle cx="247.2" cy="595.1" r="1.0" fill="#555"/><circle cx="253.7" cy="592.7" r="0.7" fill="#555"/><circle cx="244.3" cy="569.6" r="0.6" fill="#555"/><circle cx="261.0" cy="587.1" r="1.0" fill="#555"/><circle cx="243.5" cy="585.7" r="0.8" fill="#555"/><circle cx="241.7" cy="593.6" r="1.0" fill="#555"/><circle cx="262.5" cy="626.1" r="0.8" fill="#555"/><circle cx="263.4" cy="635.6" r="0.8" fill="#555"/><circle cx="257.6" cy="569.7" r="0.9" fill="#555"/><circle cx="249.5" cy="621.7" r="0.8" fill="#555"/><circle cx="244.6" cy="569.6" r="1.0" fill="#555"/><circle cx="239.8" cy="600.9" r="0.7" fill="#555"/><circle cx="244.9" cy="620.7" r="1.0" fill="#555"/><circle cx="243.8" cy="614.5" r="0.7" fill="#555"/><circle cx="252.7" cy="595.2" r="0.6" fill="#555"/><circle cx="240.8" cy="581.4" r="1.0" fill="#555"/><circle cx="250.9" cy="582.3" r="1.0" fill="#555"/><circle cx="265.9" cy="599.3" r="0.6" fill="#555"/><circle cx="241.8" cy="572.7" r="0.7" fill="#555"/><circle cx="238.7" cy="583.7" r="0.6" fill="#555"/><circle cx="253.1" cy="631.7" r="0.9" fill="#555"/><circle cx="248.4" cy="596.6" r="0.8" fill="#555"/><circle cx="247.3" cy="591.0" r="0.5" fill="#555"/><circle cx="244.3" cy="637.6" r="0.6" fill="#555"/><circle cx="251.1" cy="612.6" r="0.9" fill="#555"/><circle cx="242.5" cy="586.1" r="0.6" fill="#555"/><circle cx="248.0" cy="599.0" r="1.0" fill="#555"/><circle cx="261.5" cy="630.6" r="0.5" fill="#555"/><circle cx="237.0" cy="618.5" r="0.9" fill="#555"/><circle cx="250.2" cy="609.5" r="0.5" fill="#555"/><circle cx="247.7" cy="634.6" r="0.9" fill="#555"/><circle cx="261.7" cy="637.9" r="0.6" fill="#555"/><circle cx="239.3" cy="577.4" r="0.8" fill="#555"/><circle cx="256.5" cy="635.7" r="0.9" fill="#555"/><circle cx="255.4" cy="622.6" r="0.7" fill="#555"/><circle cx="252.5" cy="568.9" r="0.9" fill="#555"/><circle cx="243.0" cy="634.1" r="0.8" fill="#555"/><circle cx="245.1" cy="575.5" r="0.6" fill="#555"/>
<path d="M249.6,607.4 q2.5,-0.1 0.1,0.5" stroke="#f4f4f4" stroke-width="1.3" fill="none"/><path d="M241.5,603.9 q0.8,1.2 -3.2,-1.2" stroke="#f4f4f4" stroke-width="1.3" fill="none"/><path d="M238.7,625.9 q1.2,-1.8 3.9,2.8" stroke="#f4f4f4" stroke-width="1.3" fill="none"/><path d="M255.6,611.6 q-2.1,-1.9 0.2,-2.6" stroke="#f4f4f4" stroke-width="1.3" fill="none"/><path d="M241.7,583.9 q-2.8,-0.1 -0.5,2.1" stroke="#f4f4f4" stroke-width="1.3" fill="none"/><path d="M251.6,613.4 q-0.0,0.6 -0.3,-1.3" stroke="#f4f4f4" stroke-width="1.3" fill="none"/><path d="M265.9,639.7 q2.0,0.8 -1.5,-1.6" stroke="#f4f4f4" stroke-width="1.3" fill="none"/><path d="M244.7,571.2 q1.6,-0.4 2.8,-0.7" stroke="#f4f4f4" stroke-width="1.3" fill="none"/><path d="M264.7,628.7 q-3.0,-1.2 3.3,-0.2" stroke="#f4f4f4" stroke-width="1.3" fill="none"/><path d="M265.4,595.4 q-2.6,0.5 2.2,-1.4" stroke="#f4f4f4" stroke-width="1.3" fill="none"/><path d="M238.6,590.6 q2.8,1.0 -3.1,-1.5" stroke="#f4f4f4" stroke-width="1.3" fill="none"/><path d="M239.0,570.4 q1.8,-1.3 0.5,-0.3" stroke="#f4f4f4" stroke-width="1.3" fill="none"/><path d="M241.7,620.2 q-2.2,0.6 -3.1,-0.5" stroke="#f4f4f4" stroke-width="1.3" fill="none"/><path d="M242.4,586.0 q2.8,1.2 -1.6,2.3" stroke="#f4f4f4" stroke-width="1.3" fill="none"/><path d="M242.3,595.2 q2.1,0.6 -3.2,2.9" stroke="#f4f4f4" stroke-width="1.3" fill="none"/><path d="M242.4,585.1 q1.6,-0.7 -1.6,-2.6" stroke="#f4f4f4" stroke-width="1.3" fill="none"/><path d="M238.7,609.1 q-1.5,0.4 -1.0,-0.3" stroke="#f4f4f4" stroke-width="1.3" fill="none"/><path d="M264.8,601.8 q0.4,1.5 -2.5,-2.1" stroke="#f4f4f4" stroke-width="1.3" fill="none"/><path d="M263.3,626.5 q-1.5,-1.2 1.9,2.6" stroke="#f4f4f4" stroke-width="1.3" fill="none"/><path d="M241.9,636.3 q2.3,0.4 -0.6,-2.4" stroke="#f4f4f4" stroke-width="1.3" fill="none"/><path d="M237.2,637.2 q-1.6,0.8 -1.9,1.9" stroke="#f4f4f4" stroke-width="1.3" fill="none"/><path d="M253.9,587.7 q-1.9,0.9 -3.4,-1.6" stroke="#f4f4f4" stroke-width="1.3" fill="none"/><path d="M252.8,629.1 q0.7,-0.9 3.3,-1.8" stroke="#f4f4f4" stroke-width="1.3" fill="none"/><path d="M236.5,585.9 q-0.3,-1.8 -2.6,-0.8" stroke="#f4f4f4" stroke-width="1.3" fill="none"/><path d="M253.2,575.7 q-0.8,1.6 3.8,0.9" stroke="#f4f4f4" stroke-width="1.3" fill="none"/><path d="M256.7,609.2 q-2.2,-1.9 -3.9,2.5" stroke="#f4f4f4" stroke-width="1.3" fill="none"/><path d="M257.0,637.2 q-2.9,0.5 -0.1,1.4" stroke="#f4f4f4" stroke-width="1.3" fill="none"/><path d="M245.6,640.0 q-2.5,0.2 1.9,2.4" stroke="#f4f4f4" stroke-width="1.3" fill="none"/><path d="M258.1,618.1 q1.8,1.7 -1.2,1.1" stroke="#f4f4f4" stroke-width="1.3" fill="none"/><path d="M263.0,630.5 q-0.5,1.2 2.9,0.4" stroke="#f4f4f4" stroke-width="1.3" fill="none"/><path d="M254.7,594.3 q0.5,0.4 -3.4,0.8" stroke="#f4f4f4" stroke-width="1.3" fill="none"/><path d="M265.8,631.1 q1.4,-0.4 1.9,0.5" stroke="#f4f4f4" stroke-width="1.3" fill="none"/><path d="M249.2,628.0 q-2.5,1.0 -3.8,0.6" stroke="#f4f4f4" stroke-width="1.3" fill="none"/><path d="M250.4,583.0 q1.2,-0.0 0.9,2.5" stroke="#f4f4f4" stroke-width="1.3" fill="none"/><path d="M243.7,566.8 q-1.2,0.7 -2.4,-2.0" stroke="#f4f4f4" stroke-width="1.3" fill="none"/><path d="M263.2,614.8 q-0.3,1.6 -1.4,1.0" stroke="#f4f4f4" stroke-width="1.3" fill="none"/><path d="M242.0,597.9 q1.8,1.7 3.0,-0.7" stroke="#f4f4f4" stroke-width="1.3" fill="none"/><path d="M253.5,589.4 q-2.2,-0.0 2.7,2.1" stroke="#f4f4f4" stroke-width="1.3" fill="none"/><path d="M257.3,636.3 q-1.3,-1.3 -0.4,-1.3" stroke="#f4f4f4" stroke-width="1.3" fill="none"/><path d="M242.4,596.6 q0.8,-0.0 -1.5,2.0" stroke="#f4f4f4" stroke-width="1.3" fill="none"/><path d="M265.5,599.5 q-2.6,-1.9 3.0,-2.8" stroke="#f4f4f4" stroke-width="1.3" fill="none"/><path d="M257.3,608.2 q-1.1,1.2 -3.8,-2.2" stroke="#f4f4f4" stroke-width="1.3" fill="none"/><path d="M249.6,567.8 q2.0,-1.1 -2.9,-2.7" stroke="#f4f4f4" stroke-width="1.3" fill="none"/><path d="M254.9,599.0 q0.8,0.6 2.5,2.8" stroke="#f4f4f4" stroke-width="1.3" fill="none"/><path d="M256.5,580.8 q-0.1,-1.3 -3.9,-0.2" stroke="#f4f4f4" stroke-width="1.3" fill="none"/><path d="M257.4,579.3 q-1.4,-0.6 1.6,0.1" stroke="#f4f4f4" stroke-width="1.3" fill="none"/><path d="M254.4,622.0 q-0.6,1.2 3.2,-2.5" stroke="#f4f4f4" stroke-width="1.3" fill="none"/><path d="M264.0,619.5 q-2.2,-0.2 1.0,2.5" stroke="#f4f4f4" stroke-width="1.3" fill="none"/><path d="M247.3,608.1 q2.3,1.2 3.6,-0.2" stroke="#f4f4f4" stroke-width="1.3" fill="none"/><path d="M255.5,581.2 q1.3,1.3 1.1,1.3" stroke="#f4f4f4" stroke-width="1.3" fill="none"/><path d="M242.4,632.6 q2.9,1.9 0.3,1.7" stroke="#f4f4f4" stroke-width="1.3" fill="none"/><path d="M245.6,633.3 q2.1,-0.6 -3.3,-0.4" stroke="#f4f4f4" stroke-width="1.3" fill="none"/><path d="M252.5,622.8 q-0.1,-1.9 2.5,-2.6" stroke="#f4f4f4" stroke-width="1.3" fill="none"/><path d="M260.0,578.8 q-1.0,1.2 -2.9,-2.1" stroke="#f4f4f4" stroke-width="1.3" fill="none"/><path d="M251.5,619.5 q2.0,0.8 3.6,-0.0" stroke="#f4f4f4" stroke-width="1.3" fill="none"/><path d="M264.5,572.4 q-1.7,0.1 -1.7,1.4" stroke="#f4f4f4" stroke-width="1.3" fill="none"/><path d="M255.2,604.7 q2.1,0.2 -1.5,-0.7" stroke="#f4f4f4" stroke-width="1.3" fill="none"/><path d="M261.4,632.6 q-1.8,1.4 3.7,0.1" stroke="#f4f4f4" stroke-width="1.3" fill="none"/><path d="M253.2,580.9 q0.2,0.0 0.8,-2.8" stroke="#f4f4f4" stroke-width="1.3" fill="none"/><path d="M265.1,604.2 q-0.6,1.2 0.5,-0.1" stroke="#f4f4f4" stroke-width="1.3" fill="none"/>
</g>
<!-- HUMAN2 -->
<g id="human2">
<g fill="none" stroke="#444" stroke-width="1.4" stroke-linecap="round" stroke-linejoin="round">
<path d="M500,563.3 C499,560 499,558 498.3,556.7 C494,556 491,556 490,555 C489,552 489,549 488.3,546.7 C487,545 485,543 485,541.7 C486,538 489,533 490,526.7 C493,521 500,519 508.3,519.2 C518,520 525,525 526.7,531.7 C527,537 523,541 520,543.3 C518,547 518,551 518.3,555 C520,561 526,565 533.3,566.7 C540,569 546,572 548.3,575 C552,579 555,584 555,588.3 C555,595 556,600 555,606.7"/>
<path d="M500,563.3 C498,566 493,567 488.3,568.3 C482,571 476,573 471.7,576.7 C469,580 467.5,582 467.5,585 C467,592 468,600 467.5,606.7"/>
<path d="M482.5,603.3 C484,612 488,618 488.3,623.3 C487,630 485,635 485,640 C483,648 481,655 481.7,660 C482,668 484,675 485,681.7"/>
<path d="M540,603.3 C538,612 534,618 533.3,623.3 C535,630 538,635 538.3,640 C540,648 542,655 541.7,660 C541,668 539,675 537.5,681.7"/>
<path d="M511.7,668.3 C511,675 510,682 510,690 M514.2,668.3 C514,675 514.5,682 514.2,690"/>
</g>
<path d="M488.3,545.8 C492,545 496,544 500,545 C503,547 505,550 506,554 C509,560 512,565 512,570 C512,580 512,590 512.5,608" fill="none" stroke="#1f5a28" stroke-width="3.5"/>
<path d="M488.3,545.8 C492,545 496,544 500,545 C503,547 505,550 506,554 C509,560 512,565 512,570 C512,580 512,590 512.5,608" fill="none" stroke="#2e9e3c" stroke-width="1.8"/>
<path d="M511,606 L514.5,606 C517,609 522,610 529,610.5 C531,614 531,619 529.5,623 C526,628 518,630 510,629.5 C505,629.5 500,627 499,623 C499,619 503,618 507,621 C510,619 511,614 511,610 Z" fill="#2e9e3c" stroke="#1f5a28" stroke-width="1"/>
<path d="M502,633 C508,631 516,632 523,633 C526,635 525,638 520,638 C512,638 504,638 502,641 C503,645 512,643 520,643 C525,644 524,648 518,648 C512,648 505,648 501,647" fill="none" stroke="#1e5a60" stroke-width="5.6"/>
<path d="M502,633 C508,631 516,632 523,633 C526,635 525,638 520,638 C512,638 504,638 502,641 C503,645 512,643 520,643 C525,644 524,648 518,648 C512,648 505,648 501,647" fill="none" stroke="#3a9fa8" stroke-width="3.6"/>
<path d="M494,651 C492,645 492,636 492.5,629 C505,630 518,628 531,624 C532,632 531,642 530,648 C525,654 520,657 516,657 C512,658 511,662 511.5,667" fill="none" stroke="#6b5a1a" stroke-width="8.6" stroke-linecap="round" stroke-linejoin="round"/>
<path d="M494,651 C492,645 492,636 492.5,629 C505,630 518,628 531,624 C532,632 531,642 530,648 C525,654 520,657 516,657 C512,658 511,662 511.5,667" fill="none" stroke="#f7c93e" stroke-width="6.4" stroke-linecap="round" stroke-linejoin="round"/>
<path d="M526.7,633.3 L588,622.5" stroke="#333" stroke-width="1.1"/>
</g>
<!-- SCOLEX & TAPEWORM -->
<g id="tapeworm" fill="none" stroke-linecap="round" stroke-linejoin="round">
<!-- scolex -->
<path d="M598,640 L598,618 C596,614 591,610 591,604 C591,598 594,592 598,590 C600,587 603,585.5 607,585.5 C611,585.5 614,587 616,590 C621,592 624,598 624,604 C624,610 620,614 618,618 L618,638" stroke="#666" stroke-width="1.1" fill="#f0f0f0"/>
<path d="M599,590 C601,586 604,585 607,585 C611,585 614,587 615,590 C613,593 610,594 607,594 C604,594 601,593 599,590 Z" fill="#666" stroke="#333" stroke-width="0.8"/>
<path d="M601,588 l2,3 M605,587 l1,4 M609,587 l-1,4 M613,588 l-2,3" stroke="#222" stroke-width="0.9"/>
<ellipse cx="594.7" cy="604.5" rx="4.3" ry="8.3" fill="#ccc" stroke="#444" stroke-width="1.2"/>
<ellipse cx="619.5" cy="604.5" rx="4.3" ry="8.3" fill="#ccc" stroke="#444" stroke-width="1.2"/>
<ellipse cx="594.7" cy="604.5" rx="1.4" ry="3" fill="#111"/>
<ellipse cx="619.8" cy="604.5" rx="1.4" ry="3" fill="#111"/>
<path d="M603,598 l2,3 m3,-3 l2,3 m-6,5 l2,2 m4,-2 l1,3 m-8,6 l3,2 m3,-1 l3,2 m-8,5 l2,1 m3,0 l3,1" stroke="#999" stroke-width="1"/>
<path d="M597,624 l5,0 M597,629 l5,0 M597,634 l5,0 M614,624 l5,0 M614,629 l5,0 M614,634 l5,0" stroke="#666" stroke-width="1.3"/>
<!-- magnifier -->
<path d="M627,629.7 L641,655 M627,629.7 L648,657" stroke="#444" stroke-width="1.1"/>
<circle cx="643.8" cy="663.5" r="8.6" fill="#fff" stroke="#444" stroke-width="1.3"/>
<!-- thin chain -->
<path d="M619,651 C622,660 622,670 625,677 C629,680 632,674 633,665 C634,660 634,656 635,654" stroke="#6a6a6a" stroke-width="4.2" stroke-linecap="butt"/>
<path d="M619,651 C622,660 622,670 625,677 C629,680 632,674 633,665 C634,660 634,656 635,654" stroke="#fff" stroke-width="2.0" stroke-linecap="butt"/>
<path d="M619,651 C622,660 622,670 625,677 C629,680 632,674 633,665 C634,660 634,656 635,654" stroke="#8a8a8a" stroke-width="2.0" stroke-dasharray="1.1 2.2" stroke-linecap="butt"/>
<path d="M619,653 C614,661 613,675 612,688 C611,695 612,700 613,703" stroke="#6a6a6a" stroke-width="6.5" stroke-linecap="butt"/>
<path d="M619,653 C614,661 613,675 612,688 C611,695 612,700 613,703" stroke="#fff" stroke-width="4.3" stroke-linecap="butt"/>
<path d="M619,653 C614,661 613,675 612,688 C611,695 612,700 613,703" stroke="#8a8a8a" stroke-width="4.3" stroke-dasharray="1.1 2.6" stroke-linecap="butt"/>
<path d="M588,670 C588,661 592,656 597,657.5 C602,661 601,672 600,684 C600,694 603,701 610,704" stroke="#6a6a6a" stroke-width="8" stroke-linecap="butt"/>
<path d="M588,670 C588,661 592,656 597,657.5 C602,661 601,672 600,684 C600,694 603,701 610,704" stroke="#fff" stroke-width="5.8" stroke-linecap="butt"/>
<path d="M588,670 C588,661 592,656 597,657.5 C602,661 601,672 600,684 C600,694 603,701 610,704" stroke="#8a8a8a" stroke-width="5.8" stroke-dasharray="1.1 3" stroke-linecap="butt"/>
<path d="M580,675 C583,686 589,698 597,706 C603,711 610,710 612,702" stroke="#6a6a6a" stroke-width="9" stroke-linecap="butt"/>
<path d="M580,675 C583,686 589,698 597,706 C603,711 610,710 612,702" stroke="#fff" stroke-width="6.8" stroke-linecap="butt"/>
<path d="M580,675 C583,686 589,698 597,706 C603,711 610,710 612,702" stroke="#8a8a8a" stroke-width="6.8" stroke-dasharray="1.1 3.5" stroke-linecap="butt"/>
<path d="M550,721 L560,721 C566,717 571,707 571,696 C570,687 566,681 563,674 C561,667 565,662 571,662.5 C576,663 579,668 580,675" stroke="#6a6a6a" stroke-width="11" stroke-linecap="butt"/>
<path d="M550,721 L560,721 C566,717 571,707 571,696 C570,687 566,681 563,674 C561,667 565,662 571,662.5 C576,663 579,668 580,675" stroke="#fff" stroke-width="8.8" stroke-linecap="butt"/>
<path d="M550,721 L560,721 C566,717 571,707 571,696 C570,687 566,681 563,674 C561,667 565,662 571,662.5 C576,663 579,668 580,675" stroke="#8a8a8a" stroke-width="8.8" stroke-dasharray="1.1 5" stroke-linecap="butt"/>
<!-- detached segment -->
<g transform="translate(536.5,708) rotate(-35)"><rect x="-5.5" y="-10.5" width="11" height="21" rx="1.5" fill="#fff" stroke="#666" stroke-width="1.1"/></g>
</g>

<defs>
<g id="bio"><g transform="translate(0,1.6)"><path d="M3.42,-12.41 L3.66,-12.27 L3.89,-12.12 L4.11,-11.96 L4.33,-11.80 L4.55,-11.62 L4.75,-11.44 L4.95,-11.25 L5.14,-11.05 L5.32,-10.85 L5.50,-10.63 L5.66,-10.41 L5.82,-10.19 L5.97,-9.96 L6.11,-9.72 L6.24,-9.48 L6.36,-9.23 L6.47,-8.98 L6.57,-8.72 L6.66,-8.46 L6.74,-8.20 L6.81,-7.93 L6.87,-7.67 L6.91,-7.40 L6.95,-7.12 L6.98,-6.85 L6.99,-6.57 L7.00,-6.30 L6.99,-6.03 L6.98,-5.75 L6.95,-5.48 L6.91,-5.20 L6.87,-4.93 L6.81,-4.67 L6.74,-4.40 L6.66,-4.14 L6.57,-3.88 L6.47,-3.62 L6.36,-3.37 L6.24,-3.12 L6.11,-2.88 L5.97,-2.64 L5.82,-2.41 L5.66,-2.19 L5.50,-1.97 L5.32,-1.75 L5.14,-1.55 L4.95,-1.35 L4.75,-1.16 L4.55,-0.98 L4.33,-0.80 L4.11,-0.64 L3.89,-0.48 L3.66,-0.33 L3.42,-0.19 L3.18,-0.06 L2.93,0.06 L2.68,0.17 L2.42,0.27 L2.16,0.36 L1.90,0.44 L1.63,0.51 L1.37,0.57 L1.10,0.61 L0.82,0.65 L0.55,0.68 L0.27,0.69 L0.00,0.70 L-0.27,0.69 L-0.55,0.68 L-0.82,0.65 L-1.10,0.61 L-1.37,0.57 L-1.63,0.51 L-1.90,0.44 L-2.16,0.36 L-2.42,0.27 L-2.68,0.17 L-2.93,0.06 L-3.18,-0.06 L-3.42,-0.19 L-3.66,-0.33 L-3.89,-0.48 L-4.11,-0.64 L-4.33,-0.80 L-4.55,-0.98 L-4.75,-1.16 L-4.95,-1.35 L-5.14,-1.55 L-5.32,-1.75 L-5.50,-1.97 L-5.66,-2.19 L-5.82,-2.41 L-5.97,-2.64 L-6.11,-2.88 L-6.24,-3.12 L-6.36,-3.37 L-6.47,-3.62 L-6.57,-3.88 L-6.66,-4.14 L-6.74,-4.40 L-6.81,-4.67 L-6.87,-4.93 L-6.91,-5.20 L-6.95,-5.48 L-6.98,-5.75 L-6.99,-6.03 L-7.00,-6.30 L-6.99,-6.57 L-6.98,-6.85 L-6.95,-7.12 L-6.91,-7.40 L-6.87,-7.67 L-6.81,-7.93 L-6.74,-8.20 L-6.66,-8.46 L-6.57,-8.72 L-6.47,-8.98 L-6.36,-9.23 L-6.24,-9.48 L-6.11,-9.72 L-5.97,-9.96 L-5.82,-10.19 L-5.66,-10.41 L-5.50,-10.63 L-5.32,-10.85 L-5.14,-11.05 L-4.95,-11.25 L-4.75,-11.44 L-4.55,-11.62 L-4.33,-11.80 L-4.11,-11.96 L-3.89,-12.12 L-3.66,-12.27 L-3.42,-12.41M3.33,-12.42 L3.41,-12.29 L3.49,-12.15 L3.56,-12.02 L3.63,-11.87 L3.70,-11.73 L3.75,-11.58 L3.80,-11.44 L3.85,-11.29 L3.89,-11.13 L3.92,-10.98 L3.95,-10.83 L3.97,-10.67 L3.99,-10.51 L4.00,-10.36 L4.00,-10.20 L4.00,-10.04 L3.99,-9.89 L3.97,-9.73 L3.95,-9.57 L3.92,-9.42 L3.89,-9.27 L3.85,-9.11 L3.80,-8.96 L3.75,-8.82 L3.70,-8.67 L3.63,-8.53 L3.56,-8.38 L3.49,-8.25 L3.41,-8.11 L3.33,-7.98 L3.24,-7.85 L3.14,-7.72 L3.04,-7.60 L2.94,-7.48 L2.83,-7.37 L2.72,-7.26 L2.60,-7.16 L2.48,-7.06 L2.35,-6.96 L2.22,-6.87 L2.09,-6.79 L1.95,-6.71 L1.82,-6.64 L1.67,-6.57 L1.53,-6.50 L1.38,-6.45 L1.24,-6.40 L1.09,-6.35 L0.93,-6.31 L0.78,-6.28 L0.63,-6.25 L0.47,-6.23 L0.31,-6.21 L0.16,-6.20 L0.00,-6.20 L-0.16,-6.20 L-0.31,-6.21 L-0.47,-6.23 L-0.63,-6.25 L-0.78,-6.28 L-0.93,-6.31 L-1.09,-6.35 L-1.24,-6.40 L-1.38,-6.45 L-1.53,-6.50 L-1.67,-6.57 L-1.82,-6.64 L-1.95,-6.71 L-2.09,-6.79 L-2.22,-6.87 L-2.35,-6.96 L-2.48,-7.06 L-2.60,-7.16 L-2.72,-7.26 L-2.83,-7.37 L-2.94,-7.48 L-3.04,-7.60 L-3.14,-7.72 L-3.24,-7.85 L-3.33,-7.98 L-3.41,-8.11 L-3.49,-8.25 L-3.56,-8.38 L-3.63,-8.53 L-3.70,-8.67 L-3.75,-8.82 L-3.80,-8.96 L-3.85,-9.11 L-3.89,-9.27 L-3.92,-9.42 L-3.95,-9.57 L-3.97,-9.73 L-3.99,-9.89 L-4.00,-10.04 L-4.00,-10.20 L-4.00,-10.36 L-3.99,-10.51 L-3.97,-10.67 L-3.95,-10.83 L-3.92,-10.98 L-3.89,-11.13 L-3.85,-11.29 L-3.80,-11.44 L-3.75,-11.58 L-3.70,-11.73 L-3.63,-11.87 L-3.56,-12.02 L-3.49,-12.15 L-3.41,-12.29 L-3.33,-12.42M9.04,9.17 L8.80,9.30 L8.55,9.43 L8.30,9.54 L8.05,9.65 L7.79,9.75 L7.53,9.84 L7.27,9.91 L7.00,9.98 L6.73,10.03 L6.46,10.08 L6.19,10.11 L5.91,10.14 L5.64,10.15 L5.36,10.15 L5.09,10.14 L4.82,10.12 L4.54,10.09 L4.27,10.05 L4.00,10.00 L3.73,9.93 L3.47,9.86 L3.21,9.78 L2.95,9.69 L2.69,9.58 L2.44,9.47 L2.20,9.34 L1.96,9.21 L1.72,9.07 L1.49,8.92 L1.27,8.76 L1.05,8.59 L0.84,8.41 L0.64,8.23 L0.44,8.03 L0.25,7.83 L0.07,7.63 L-0.10,7.41 L-0.26,7.19 L-0.41,6.96 L-0.56,6.73 L-0.70,6.49 L-0.82,6.25 L-0.94,6.00 L-1.05,5.74 L-1.14,5.49 L-1.23,5.23 L-1.31,4.96 L-1.37,4.69 L-1.43,4.43 L-1.47,4.15 L-1.51,3.88 L-1.53,3.61 L-1.54,3.33 L-1.54,3.06 L-1.53,2.78 L-1.51,2.51 L-1.48,2.24 L-1.44,1.96 L-1.39,1.69 L-1.33,1.43 L-1.26,1.16 L-1.17,0.90 L-1.08,0.64 L-0.98,0.39 L-0.86,0.14 L-0.74,-0.11 L-0.61,-0.35 L-0.46,-0.59 L-0.31,-0.81 L-0.15,-1.04 L0.02,-1.26 L0.19,-1.47 L0.38,-1.67 L0.57,-1.86 L0.77,-2.05 L0.98,-2.23 L1.19,-2.40 L1.42,-2.57 L1.64,-2.72 L1.88,-2.87 L2.12,-3.00 L2.36,-3.13 L2.61,-3.24 L2.86,-3.35 L3.12,-3.45 L3.38,-3.54 L3.64,-3.61 L3.91,-3.68 L4.18,-3.73 L4.45,-3.78 L4.72,-3.81 L5.00,-3.84 L5.27,-3.85 L5.55,-3.85 L5.82,-3.84 L6.10,-3.82 L6.37,-3.79 L6.64,-3.75 L6.91,-3.70 L7.18,-3.63 L7.44,-3.56 L7.71,-3.48 L7.96,-3.39 L8.22,-3.28 L8.47,-3.17 L8.72,-3.04 L8.96,-2.91 L9.19,-2.77 L9.42,-2.62 L9.64,-2.46 L9.86,-2.29 L10.07,-2.11 L10.27,-1.93 L10.47,-1.73 L10.66,-1.53 L10.84,-1.33 L11.01,-1.11 L11.17,-0.89 L11.33,-0.66 L11.47,-0.43 L11.61,-0.19 L11.73,0.05 L11.85,0.30 L11.96,0.56 L12.05,0.81 L12.14,1.07 L12.22,1.34 L12.28,1.61 L12.34,1.87 L12.38,2.15 L12.42,2.42 L12.44,2.69 L12.45,2.97 L12.46,3.24M9.10,9.09 L8.94,9.10 L8.78,9.10 L8.62,9.09 L8.47,9.08 L8.31,9.07 L8.16,9.04 L8.00,9.01 L7.85,8.98 L7.70,8.94 L7.55,8.89 L7.40,8.83 L7.25,8.78 L7.11,8.71 L6.97,8.64 L6.83,8.56 L6.70,8.48 L6.57,8.40 L6.44,8.31 L6.32,8.21 L6.20,8.11 L6.08,8.00 L5.97,7.89 L5.86,7.78 L5.76,7.66 L5.66,7.54 L5.57,7.41 L5.48,7.28 L5.40,7.15 L5.32,7.01 L5.25,6.87 L5.18,6.73 L5.12,6.58 L5.06,6.44 L5.01,6.29 L4.97,6.14 L4.93,5.98 L4.90,5.83 L4.87,5.67 L4.86,5.52 L4.84,5.36 L4.83,5.20 L4.83,5.05 L4.84,4.89 L4.85,4.73 L4.87,4.58 L4.89,4.42 L4.92,4.27 L4.96,4.12 L5.00,3.96 L5.05,3.81 L5.10,3.67 L5.16,3.52 L5.22,3.38 L5.29,3.24 L5.37,3.10 L5.45,2.97 L5.54,2.83 L5.63,2.71 L5.72,2.58 L5.83,2.46 L5.93,2.35 L6.04,2.23 L6.16,2.13 L6.28,2.02 L6.40,1.93 L6.52,1.83 L6.65,1.75 L6.79,1.66 L6.92,1.58 L7.06,1.51 L7.21,1.45 L7.35,1.38 L7.50,1.33 L7.65,1.28 L7.80,1.24 L7.95,1.20 L8.10,1.17 L8.26,1.14 L8.42,1.12 L8.57,1.11 L8.73,1.10 L8.89,1.10 L9.04,1.11 L9.20,1.12 L9.36,1.13 L9.51,1.16 L9.67,1.19 L9.82,1.22 L9.97,1.26 L10.12,1.31 L10.27,1.37 L10.41,1.42 L10.56,1.49 L10.70,1.56 L10.83,1.64 L10.97,1.72 L11.10,1.80 L11.23,1.89 L11.35,1.99 L11.47,2.09 L11.59,2.20 L11.70,2.31 L11.81,2.42 L11.91,2.54 L12.01,2.66 L12.10,2.79 L12.19,2.92 L12.27,3.05 L12.35,3.19 L12.42,3.33M-12.46,3.24 L-12.45,2.97 L-12.44,2.69 L-12.42,2.42 L-12.38,2.15 L-12.34,1.87 L-12.28,1.61 L-12.22,1.34 L-12.14,1.07 L-12.05,0.81 L-11.96,0.56 L-11.85,0.30 L-11.73,0.05 L-11.61,-0.19 L-11.47,-0.43 L-11.33,-0.66 L-11.17,-0.89 L-11.01,-1.11 L-10.84,-1.33 L-10.66,-1.53 L-10.47,-1.73 L-10.27,-1.93 L-10.07,-2.11 L-9.86,-2.29 L-9.64,-2.46 L-9.42,-2.62 L-9.19,-2.77 L-8.96,-2.91 L-8.72,-3.04 L-8.47,-3.17 L-8.22,-3.28 L-7.96,-3.39 L-7.71,-3.48 L-7.44,-3.56 L-7.18,-3.63 L-6.91,-3.70 L-6.64,-3.75 L-6.37,-3.79 L-6.10,-3.82 L-5.82,-3.84 L-5.55,-3.85 L-5.27,-3.85 L-5.00,-3.84 L-4.72,-3.81 L-4.45,-3.78 L-4.18,-3.73 L-3.91,-3.68 L-3.64,-3.61 L-3.38,-3.54 L-3.12,-3.45 L-2.86,-3.35 L-2.61,-3.24 L-2.36,-3.13 L-2.12,-3.00 L-1.88,-2.87 L-1.64,-2.72 L-1.42,-2.57 L-1.19,-2.40 L-0.98,-2.23 L-0.77,-2.05 L-0.57,-1.86 L-0.38,-1.67 L-0.19,-1.47 L-0.02,-1.26 L0.15,-1.04 L0.31,-0.81 L0.46,-0.59 L0.61,-0.35 L0.74,-0.11 L0.86,0.14 L0.98,0.39 L1.08,0.64 L1.17,0.90 L1.26,1.16 L1.33,1.43 L1.39,1.69 L1.44,1.96 L1.48,2.24 L1.51,2.51 L1.53,2.78 L1.54,3.06 L1.54,3.33 L1.53,3.61 L1.51,3.88 L1.47,4.15 L1.43,4.43 L1.37,4.69 L1.31,4.96 L1.23,5.23 L1.14,5.49 L1.05,5.74 L0.94,6.00 L0.82,6.25 L0.70,6.49 L0.56,6.73 L0.41,6.96 L0.26,7.19 L0.10,7.41 L-0.07,7.63 L-0.25,7.83 L-0.44,8.03 L-0.64,8.23 L-0.84,8.41 L-1.05,8.59 L-1.27,8.76 L-1.49,8.92 L-1.72,9.07 L-1.96,9.21 L-2.20,9.34 L-2.44,9.47 L-2.69,9.58 L-2.95,9.69 L-3.21,9.78 L-3.47,9.86 L-3.73,9.93 L-4.00,10.00 L-4.27,10.05 L-4.54,10.09 L-4.82,10.12 L-5.09,10.14 L-5.36,10.15 L-5.64,10.15 L-5.91,10.14 L-6.19,10.11 L-6.46,10.08 L-6.73,10.03 L-7.00,9.98 L-7.27,9.91 L-7.53,9.84 L-7.79,9.75 L-8.05,9.65 L-8.30,9.54 L-8.55,9.43 L-8.80,9.30 L-9.04,9.17M-12.42,3.33 L-12.35,3.19 L-12.27,3.05 L-12.19,2.92 L-12.10,2.79 L-12.01,2.66 L-11.91,2.54 L-11.81,2.42 L-11.70,2.31 L-11.59,2.20 L-11.47,2.09 L-11.35,1.99 L-11.23,1.89 L-11.10,1.80 L-10.97,1.72 L-10.83,1.64 L-10.70,1.56 L-10.56,1.49 L-10.41,1.42 L-10.27,1.37 L-10.12,1.31 L-9.97,1.26 L-9.82,1.22 L-9.67,1.19 L-9.51,1.16 L-9.36,1.13 L-9.20,1.12 L-9.04,1.11 L-8.89,1.10 L-8.73,1.10 L-8.57,1.11 L-8.42,1.12 L-8.26,1.14 L-8.10,1.17 L-7.95,1.20 L-7.80,1.24 L-7.65,1.28 L-7.50,1.33 L-7.35,1.38 L-7.21,1.45 L-7.06,1.51 L-6.92,1.58 L-6.79,1.66 L-6.65,1.75 L-6.52,1.83 L-6.40,1.93 L-6.28,2.02 L-6.16,2.13 L-6.04,2.23 L-5.93,2.35 L-5.83,2.46 L-5.72,2.58 L-5.63,2.71 L-5.54,2.83 L-5.45,2.97 L-5.37,3.10 L-5.29,3.24 L-5.22,3.38 L-5.16,3.52 L-5.10,3.67 L-5.05,3.81 L-5.00,3.96 L-4.96,4.12 L-4.92,4.27 L-4.89,4.42 L-4.87,4.58 L-4.85,4.73 L-4.84,4.89 L-4.83,5.05 L-4.83,5.20 L-4.84,5.36 L-4.86,5.52 L-4.87,5.67 L-4.90,5.83 L-4.93,5.98 L-4.97,6.14 L-5.01,6.29 L-5.06,6.44 L-5.12,6.58 L-5.18,6.73 L-5.25,6.87 L-5.32,7.01 L-5.40,7.15 L-5.48,7.28 L-5.57,7.41 L-5.66,7.54 L-5.76,7.66 L-5.86,7.78 L-5.97,7.89 L-6.08,8.00 L-6.20,8.11 L-6.32,8.21 L-6.44,8.31 L-6.57,8.40 L-6.70,8.48 L-6.83,8.56 L-6.97,8.64 L-7.11,8.71 L-7.25,8.78 L-7.40,8.83 L-7.55,8.89 L-7.70,8.94 L-7.85,8.98 L-8.00,9.01 L-8.16,9.04 L-8.31,9.07 L-8.47,9.08 L-8.62,9.09 L-8.78,9.10 L-8.94,9.10 L-9.10,9.09" stroke="#2a2a2a" stroke-width="1.4" fill="none" stroke-linejoin="round"/><circle cx="0" cy="0" r="4.3" fill="none" stroke="#2a2a2a" stroke-width="1.4"/></g></g>
<g id="scope">
<path d="M-5,1 L7,-11" stroke="#333" stroke-width="3.6" stroke-linecap="round"/>
<path d="M6,-12 L9,-15" stroke="#2a2a2a" stroke-width="2" stroke-linecap="round"/>
<path d="M-4,2 L-2,4" stroke="#2a2a2a" stroke-width="2.5"/>
<path d="M4,-4 C7,0 7,6 3,8 L-8,7" stroke="#333" stroke-width="2.6" fill="none" stroke-linecap="round"/>
<path d="M-8,9.5 L8,9.5" stroke="#2a2a2a" stroke-width="2.6"/>
</g>
</defs>
<use href="#bio" transform="translate(79.5,145.5) scale(0.9)"/>
<use href="#bio" transform="translate(62.5,721) scale(1.02)"/>
<use href="#bio" transform="translate(480,751) scale(0.85)"/>
<use href="#scope" transform="translate(61.5,757)"/>
<use href="#scope" transform="translate(455.5,751) scale(0.8)"/>

<!-- ARROWS -->
<g id="arrows" stroke-linecap="butt" fill="none">
<!-- blue 7->box -->
<path d="M174.6,158.5 C195,154 212,154.5 230,155" stroke="#10108c" stroke-width="7"/>
<polygon points="241,155.3 227,146 228,163" fill="#10108c"/>
<!-- blue in box -->
<path d="M355,148 C395,146 430,150 475,172" stroke="#10108c" stroke-width="7"/>
<polygon points="491.5,179 480,166 469,181" fill="#10108c"/>
<!-- blue big arc -->
<path d="M166,569 C70,545 10,460 14,350 C17,300 35,260 62,229" stroke="#10108c" stroke-width="5"/>
<polygon points="72.5,217.5 57,222.5 69,234" fill="#10108c"/>
<!-- red left up -->
<path d="M168.4,572 C163,530 167,490 185,453" stroke="#e8131b" stroke-width="4.5"/>
<polygon points="195,443 180.6,450.6 194,459" fill="#e8131b"/>
<!-- red top arc -->
<path d="M253.5,383.5 C290,362 330,354 370,356 C380,357 390,358 398,360" stroke="#e8131b" stroke-width="5"/>
<polygon points="410,362.5 398.7,352 393.7,368" fill="#e8131b"/>
<!-- red egg->box -->
<path d="M454.4,385.6 L481,405.5" stroke="#e8131b" stroke-width="5.5"/>
<polygon points="489,412.5 486,398.5 473,410.5" fill="#e8131b"/>
<!-- red box->human -->
<path d="M532.8,486.7 L538,509" stroke="#e8131b" stroke-width="5.5"/>
<polygon points="540,519 530,506.5 546.5,504.5" fill="#e8131b"/>
<!-- red bottom arc -->
<path d="M469.6,690.7 C430,715 380,732 337,731 C310,730 290,722 266,711" stroke="#e8131b" stroke-width="5"/>
<polygon points="257,705 273.5,705.5 264.3,718.5" fill="#e8131b"/>
</g>

<g stroke="#dedede" stroke-width="2" fill="none"><path d="M288,232 L466,217"/><path d="M290,246 L466,218"/><path d="M288,253 L466,219"/></g>
<!-- TEXTS -->
<text class="t" x="99" y="97" textLength="137.0" lengthAdjust="spacingAndGlyphs">A person consumes food</text>
<text class="t" x="99" y="113" textLength="127.7" lengthAdjust="spacingAndGlyphs">or water contaminated</text>
<text class="t" x="99" y="130" textLength="118.8" lengthAdjust="spacingAndGlyphs">with tapeworm eggs.</text>
<text class="t" x="301" y="174" textLength="129.0" lengthAdjust="spacingAndGlyphs">The eggs hatch into larvae</text>
<text class="t" x="301" y="189" textLength="119.0" lengthAdjust="spacingAndGlyphs">(young worms). The larvae</text>
<text class="t" x="301" y="204.5" textLength="148.0" lengthAdjust="spacingAndGlyphs">penetrate (move through) the</text>
<text class="t" x="301" y="218.6" textLength="141.0" lengthAdjust="spacingAndGlyphs">intestinal wall and move to a</text>
<text class="t" x="301" y="233.6" textLength="152.0" lengthAdjust="spacingAndGlyphs">person’s muscles or other parts</text>
<text class="t" x="301" y="248" textLength="171.0" lengthAdjust="spacingAndGlyphs">of their body such as eyes or brain.</text>
<text class="t" x="501.5" y="101.4" textLength="146.5" lengthAdjust="spacingAndGlyphs">The larvae develop into cysts,</text>
<text class="t" x="501.5" y="117" textLength="129.1" lengthAdjust="spacingAndGlyphs">or cysticerci, and are most</text>
<text class="t" x="501.5" y="131.7" textLength="136.5" lengthAdjust="spacingAndGlyphs">commonly found in muscle</text>
<text class="t" x="501.5" y="147" textLength="123.2" lengthAdjust="spacingAndGlyphs">tissue, eyes, brain and/or</text>
<text class="t" x="501.5" y="161.7" textLength="57.1" lengthAdjust="spacingAndGlyphs">spinal cord.</text>
<text class="t" x="357.5" y="324" textLength="297.5" lengthAdjust="spacingAndGlyphs">The eggs hatch into larvae (young worms). The larvae</text>
<text class="t" x="356" y="340" textLength="308" lengthAdjust="spacingAndGlyphs">penetrate (move through) the intestinal wall and move</text>
<text class="t" x="461" y="356" textLength="113" lengthAdjust="spacingAndGlyphs">to the pig’s muscles.</text>
<text class="t" x="524" y="390" textLength="163.5" lengthAdjust="spacingAndGlyphs">The larvae grow and develop</text>
<text class="t" x="524" y="406" textLength="126.0" lengthAdjust="spacingAndGlyphs">into cysts, or cysticerci.</text>
<text class="t" x="234" y="497" textLength="95.7" lengthAdjust="spacingAndGlyphs">Pigs eat the eggs.</text>
<text class="t" x="577.5" y="497" textLength="112.5" lengthAdjust="spacingAndGlyphs">A person eats raw or</text>
<text class="t" x="577.5" y="513" textLength="101.2" lengthAdjust="spacingAndGlyphs">undercooked pork</text>
<text class="t" x="577.5" y="529" textLength="131.2" lengthAdjust="spacingAndGlyphs">infected with cysticerci.</text>
<text class="t" x="577.5" y="544.5" textLength="127.5" lengthAdjust="spacingAndGlyphs">They can then develop</text>
<text class="t" x="577.5" y="560.6" textLength="129.3" lengthAdjust="spacingAndGlyphs">an intestinal tapeworm</text>
<text class="t" x="577.5" y="576.7" textLength="48.5" lengthAdjust="spacingAndGlyphs">infection.</text>
<text class="t" x="543" y="742" textLength="165.5" lengthAdjust="spacingAndGlyphs">The tapeworm begins to lay eggs</text>
<text class="t" x="543" y="756.7" textLength="161.6" lengthAdjust="spacingAndGlyphs">in a person’s intestines. A person</text>
<text class="t" x="543" y="772" textLength="144.0" lengthAdjust="spacingAndGlyphs">passes the eggs in their stool.</text>
<text class="t" x="167" y="663" textLength="231.7" lengthAdjust="spacingAndGlyphs">A person with a tapeworm passes eggs in</text>
<text class="t" x="167" y="680" textLength="220.0" lengthAdjust="spacingAndGlyphs">their stool (poop) into the environment.</text>
<text class="s" x="80" y="728" textLength="77.5" lengthAdjust="spacingAndGlyphs">Infective stage</text>
<text class="s" x="79.6" y="761" textLength="84.4" lengthAdjust="spacingAndGlyphs">Diagnostic stage</text>
<text class="s" x="632" y="612" textLength="32.5" lengthAdjust="spacingAndGlyphs">Scolex</text>
<text x="403.7" y="278.5" style="font-size:18.5px;font-weight:bold;fill:#111" textLength="105.3" lengthAdjust="spacingAndGlyphs">Cysticercosis</text>
<text x="315" y="552" style="font-size:18.5px;font-weight:bold;fill:#111" textLength="96" lengthAdjust="spacingAndGlyphs">Tapeworm</text>
<circle cx="80" cy="110.5" r="9.4" fill="#2c1664"/><text class="n" x="80" y="114.7" text-anchor="middle">7</text>
<circle cx="283" cy="173" r="9.4" fill="#2c1664"/><text class="n" x="283" y="177.2" text-anchor="middle">8</text>
<circle cx="486" cy="105" r="9.4" fill="#2c1664"/><text class="n" x="486" y="109.2" text-anchor="middle">9</text>
<circle cx="339" cy="329" r="9.4" fill="#2c1664"/><text class="n" x="339" y="333.2" text-anchor="middle">3</text>
<circle cx="506" cy="390" r="9.4" fill="#2c1664"/><text class="n" x="506" y="394.2" text-anchor="middle">4</text>
<circle cx="201.5" cy="492.5" r="9.4" fill="#2c1664"/><text class="n" x="201.5" y="496.7" text-anchor="middle">2</text>
<circle cx="559" cy="532.5" r="9.4" fill="#2c1664"/><text class="n" x="559" y="536.7" text-anchor="middle">5</text>
<circle cx="526" cy="736.5" r="9.4" fill="#2c1664"/><text class="n" x="526" y="740.7" text-anchor="middle">6</text>
<circle cx="140" cy="664" r="9.4" fill="#2c1664"/><text class="n" x="140" y="668.2" text-anchor="middle">1</text>
<!-- /TEXTS -->
</svg>
</body></html>
